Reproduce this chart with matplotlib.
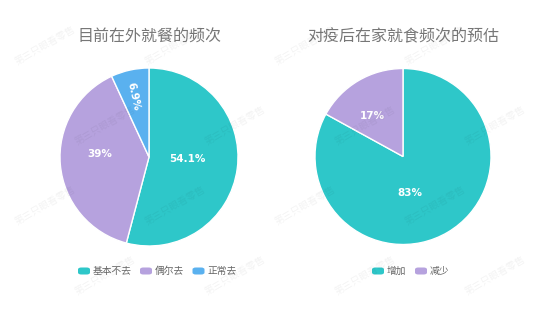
import numpy as np
import matplotlib.pyplot as plt
from matplotlib.patches import FancyBboxPatch

plt.rcParams['font.family'] = ['Noto Sans CJK SC', 'DejaVu Sans']

# data
left_title = '目前在外就餐的频次'
left_labels = ['基本不去', '偶尔去', '正常去']
left_values = [54.1, 39, 6.9]
left_text = ['54.1%', '39%', '6.9%']

right_title = '对疫后在家就食频次的预估'
right_labels = ['增加', '减少']
right_values = [83, 17]
right_text = ['83%', '17%']

colors = ['#2ec7c9', '#b6a2de', '#5ab1ef']

W, H = 549, 309
fig = plt.figure(figsize=(W / 100, H / 100), dpi=100)
fig.patch.set_facecolor('white')

# faint watermark
for row, yy in enumerate([45, 125, 205, 275]):
    for xx in [45, 175, 305, 435]:
        off = 60 if row % 2 else 0
        fig.text((xx + off) / W, 1 - yy / H, '第三只眼看零售', fontsize=7,
                 color='black', alpha=0.05, rotation=30, ha='center',
                 va='center', zorder=10)


def draw_pie(cx, cy, r, values, texts, title, label_adj):
    ax = fig.add_axes([(cx - r) / W, 1 - (cy + r) / H, 2 * r / W, 2 * r / H])
    ax.pie(values, colors=colors[:len(values)], startangle=90,
           counterclock=False, radius=1,
           wedgeprops=dict(edgecolor='white', linewidth=1))
    ax.set_xlim(-1, 1)
    ax.set_ylim(-1, 1)
    ax.set_aspect('equal')
    ax.axis('off')
    total = sum(values)
    start = 90
    for v, t, (d, da) in zip(values, texts, label_adj):
        mid = start - v / total * 360 / 2
        start -= v / total * 360
        a = np.deg2rad(mid + da)
        rot = mid - 180 if v / total < 0.1 else 0
        ax.text(d * np.cos(a), d * np.sin(a), t, color='white', fontsize=7.5,
                fontweight='bold', ha='center', va='center', rotation=rot,
                family=['DejaVu Sans'])
    fig.text(cx / W, 1 - 37 / H, title, fontsize=11.5, color='#777777',
             ha='center', va='center')
    return ax


draw_pie(149, 157, 89, left_values, left_text, left_title,
         [(0.43, 4), (0.55, -9), (0.70, 2)])
draw_pie(403, 156.5, 88, right_values, right_text, right_title,
         [(0.42, -20), (0.58, 6)])


def legend(x0, labels):
    x = x0
    y = 271
    for i, lab in enumerate(labels):
        box = FancyBboxPatch((x / W, 1 - (y + 3.5) / H), 12 / W, 7 / H,
                             boxstyle='round,pad=0,rounding_size=0.006',
                             transform=fig.transFigure, facecolor=colors[i],
                             edgecolor='none')
        fig.patches.append(box)
        fig.text((x + 15) / W, 1 - y / H, lab, fontsize=7, color='#666666',
                 ha='left', va='center')
        x += 15 + len(lab) * 9.5 + 9


legend(78, left_labels)
legend(372, right_labels)

fig.savefig('out.png', dpi=100)
